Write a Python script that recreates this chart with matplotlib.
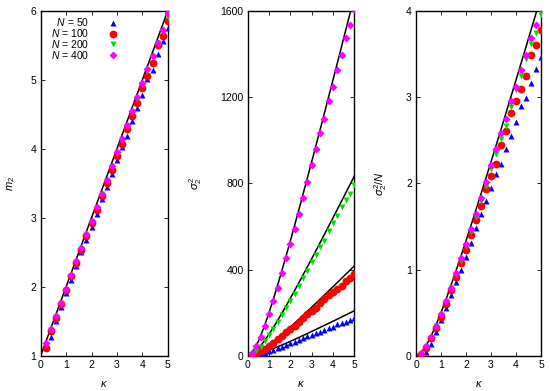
'''
Second moment m2 and variance sigma_2^2 against kappa for several N
'''
import numpy as np
import matplotlib
matplotlib.use('Agg')
import matplotlib.pyplot as plt

plt.rcParams['font.family'] = ['Liberation Sans', 'DejaVu Sans']
plt.rcParams['font.size'] = 7.5
plt.rcParams['mathtext.fontset'] = 'custom'
plt.rcParams['mathtext.it'] = 'Liberation Sans:italic'
plt.rcParams['mathtext.rm'] = 'Liberation Sans'

kappa = [0.2, 0.4, 0.6, 0.8, 1.0, 1.2, 1.4, 1.6, 1.8, 2.0, 2.2, 2.4, 2.6,
         2.8, 3.0, 3.2, 3.4, 3.6, 3.8, 4.0, 4.2, 4.4, 4.6, 4.8, 5.0]
sizes = [50, 100, 200, 400]

# m2
m2_50 = [1.13, 1.27, 1.50, 1.71, 1.91, 2.10, 2.30, 2.50, 2.68, 2.86, 3.06, 3.27, 3.45,
         3.64, 3.84, 4.03, 4.18, 4.40, 4.60, 4.78, 5.02, 5.15, 5.37, 5.57, 5.76]
m2_100 = [1.11, 1.36, 1.55, 1.75, 1.95, 2.15, 2.34, 2.53, 2.73, 2.92, 3.11, 3.32, 3.51,
          3.70, 3.90, 4.07, 4.29, 4.47, 4.66, 4.88, 5.06, 5.25, 5.50, 5.64, 5.85]
m2_200 = [1.15, 1.37, 1.56, 1.76, 1.96, 2.16, 2.36, 2.55, 2.75, 2.94, 3.14, 3.34, 3.54,
          3.74, 3.93, 4.13, 4.33, 4.53, 4.72, 4.92, 5.13, 5.33, 5.53, 5.70, 5.91]
m2_400 = [1.19, 1.38, 1.57, 1.77, 1.97, 2.17, 2.37, 2.56, 2.76, 2.96, 3.16, 3.35, 3.55,
          3.75, 3.95, 4.15, 4.35, 4.55, 4.75, 4.95, 5.16, 5.34, 5.54, 5.73, 5.97]

# sigma_2^2 / N
s2n_50 = [0.00, 0.04, 0.14, 0.27, 0.41, 0.55, 0.70, 0.85, 1.00, 1.15, 1.31, 1.48, 1.64,
          1.79, 1.95, 2.11, 2.22, 2.40, 2.55, 2.71, 2.90, 2.99, 3.17, 3.33, 3.47]
s2n_100 = [0.01, 0.09, 0.20, 0.32, 0.45, 0.60, 0.76, 0.91, 1.08, 1.23, 1.40, 1.57, 1.74,
           1.93, 2.08, 2.23, 2.44, 2.61, 2.82, 2.95, 3.09, 3.24, 3.49, 3.60, 3.78]
s2n_200 = [0.02, 0.10, 0.21, 0.34, 0.47, 0.62, 0.78, 0.935, 1.10, 1.27, 1.44, 1.61, 1.80,
           1.97, 2.17, 2.34, 2.52, 2.66, 2.89, 3.08, 3.24, 3.44, 3.62, 3.75, 3.95]
s2n_400 = [0.03, 0.11, 0.22, 0.34, 0.48, 0.63, 0.79, 0.96, 1.13, 1.30, 1.47, 1.65, 1.835,
           2.02, 2.21, 2.40, 2.58, 2.75, 2.95, 3.12, 3.31, 3.49, 3.69, 3.84, 4.02]

# theory curves
m2_line_k = [0.0, 5.0]
m2_line = [1.0, 6.0]
s2n_line_k = [0.0, 0.25, 0.5, 0.75, 1.0, 1.25, 1.5, 1.75, 2.0, 2.25, 2.5, 2.75,
              3.0, 3.25, 3.5, 3.75, 4.0, 4.25, 4.5, 4.75, 5.0]
s2n_line = [0.0, 0.05, 0.167, 0.321, 0.5, 0.694, 0.9, 1.114, 1.333, 1.558, 1.786, 2.017,
            2.25, 2.485, 2.722, 2.961, 3.2, 3.44, 3.682, 3.925, 4.167]

m2_all = [m2_50, m2_100, m2_200, m2_400]
s2n_all = [s2n_50, s2n_100, s2n_200, s2n_400]
styles = [('^', '#0000ff', 4.8), ('o', '#ff0000', 5.6), ('v', '#00e000', 4.8), ('D', '#ff00ff', 3.8)]

fig = plt.figure(figsize=(5.5, 3.91), dpi=100)
bottom, height = 0.0903, 0.8816
ax1 = fig.add_axes([0.074, bottom, 0.231, height])
ax2 = fig.add_axes([0.4504, bottom, 0.1938, height])
ax3 = fig.add_axes([0.7564, bottom, 0.2273, height])

k = np.array(kappa)
for N, m2, s2n, (mk, col, ms) in zip(sizes, m2_all, s2n_all, styles):
    ax1.plot(k, m2, mk, color=col, ms=ms, mec='none', ls='none', label='$N$ = %d' % N, zorder=3)
    ax2.plot(k, N * np.array(s2n), mk, color=col, ms=ms, mec='none', ls='none', zorder=3)
    ax3.plot(k, s2n, mk, color=col, ms=ms, mec='none', ls='none', zorder=3)

ax1.plot(m2_line_k, m2_line, 'k-', lw=1.1, zorder=2)
for N in sizes:
    ax2.plot(s2n_line_k, N * np.array(s2n_line), 'k-', lw=1.1, zorder=2)
ax3.plot(s2n_line_k, s2n_line, 'k-', lw=1.1, zorder=2)

ax1.set_ylim(1, 6)
ax1.set_yticks([1, 2, 3, 4, 5, 6])
ax2.set_ylim(0, 1600)
ax2.set_yticks([0, 400, 800, 1200, 1600])
ax3.set_ylim(0, 4)
ax3.set_yticks([0, 1, 2, 3, 4])

ax1.set_ylabel('$m_2$', fontsize=8, labelpad=10)
ax2.set_ylabel(r'$\sigma_2^2$', fontsize=8, labelpad=12)
ax3.set_ylabel(r'$\sigma_2^2/N$', fontsize=8, labelpad=12)

for ax in (ax1, ax2, ax3):
    ax.set_xlim(0, 5)
    ax.set_xticks([0, 1, 2, 3, 4, 5])
    ax.set_xlabel(r'$\kappa$', fontsize=8, labelpad=6.5)
    ax.tick_params(direction='in', top=True, right=True, length=3, width=0.6,
                   labelsize=7.5, pad=3)
    for sp in ax.spines.values():
        sp.set_linewidth(1.0)

labels = ['\u2007$N$ = 50', '$N$ = 100', '$N$ = 200', '$N$ = 400']
h, _ = ax1.get_legend_handles_labels()
ax1.legend(h, labels, loc='upper left', bbox_to_anchor=(0.04, 1.0), frameon=False,
           markerfirst=False, handlelength=1.0, handletextpad=1.8,
           labelspacing=-0.1, borderaxespad=0.1, fontsize=7.5)

fig.savefig('out.png', dpi=100)
